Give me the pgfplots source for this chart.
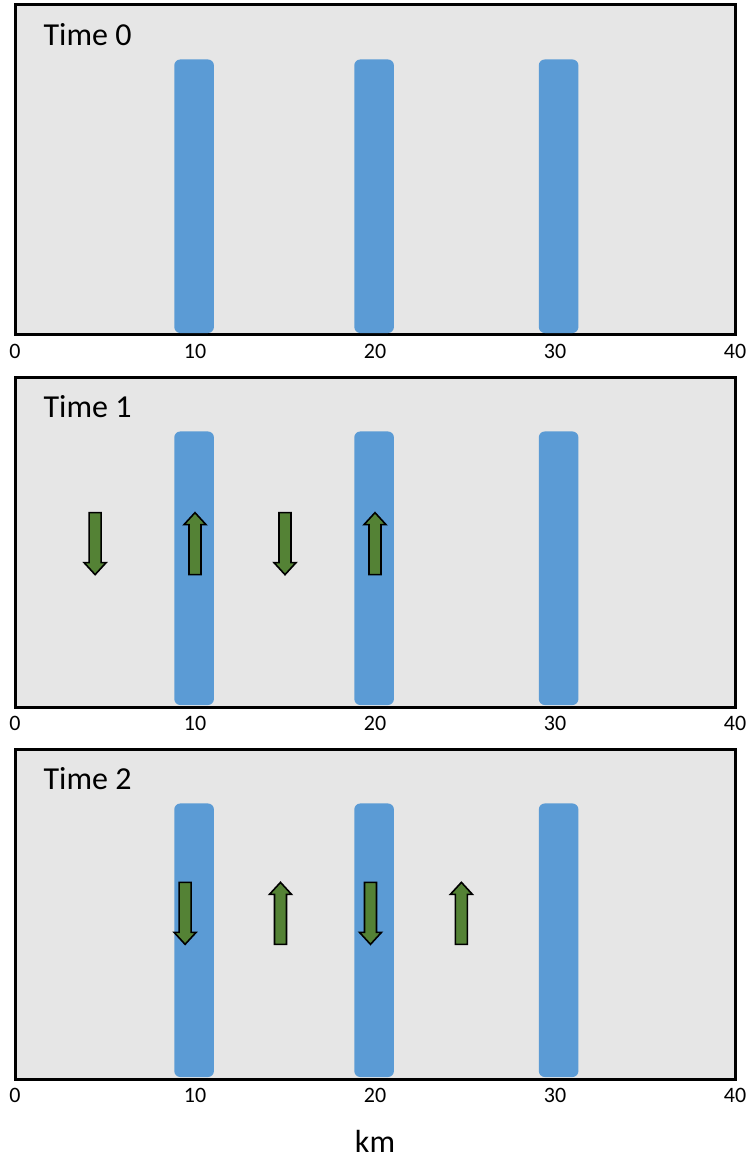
\documentclass[border=0pt]{standalone}
\usepackage{pgfplots}
\pgfplotsset{compat=1.18}
\usepackage{fontspec}
\setmainfont{Carlito}
\definecolor{bg}{HTML}{E6E6E6}
\definecolor{barb}{HTML}{5B9BD5}
\definecolor{arr}{HTML}{548235}
\pgfdeclareplotmark{dnarrow}{%
\pgfpathmoveto{\pgfpoint{-3pt}{15.5pt}}\pgfpathlineto{\pgfpoint{3pt}{15.5pt}}%
\pgfpathlineto{\pgfpoint{3pt}{-9.5pt}}\pgfpathlineto{\pgfpoint{5.5pt}{-9.5pt}}%
\pgfpathlineto{\pgfpoint{0pt}{-15.5pt}}\pgfpathlineto{\pgfpoint{-5.5pt}{-9.5pt}}%
\pgfpathlineto{\pgfpoint{-3pt}{-9.5pt}}\pgfpathclose\pgfusepathqfillstroke}
\pgfdeclareplotmark{uparrow}{%
\pgfpathmoveto{\pgfpoint{-3pt}{-15.5pt}}\pgfpathlineto{\pgfpoint{3pt}{-15.5pt}}%
\pgfpathlineto{\pgfpoint{3pt}{9.5pt}}\pgfpathlineto{\pgfpoint{5.5pt}{9.5pt}}%
\pgfpathlineto{\pgfpoint{0pt}{15.5pt}}\pgfpathlineto{\pgfpoint{-5.5pt}{9.5pt}}%
\pgfpathlineto{\pgfpoint{-3pt}{9.5pt}}\pgfpathclose\pgfusepathqfillstroke}
\pgfplotsset{panel/.style={width=360pt,height=165pt,scale only axis,
 xmin=0,xmax=40,ymin=0,ymax=1,xtick={0,10,20,30,40},ytick=\empty,
 major tick length=0pt,axis line style={line width=1.5pt},
 axis background/.style={fill=bg},
 /pgf/number format/assume math mode=true,
 tick label style={font=\fontsize{11}{13}\selectfont},
 xticklabel style={yshift=-1pt},
 clip=false}}
\newcommand{\bars}{%
\addplot[fill=barb,draw=none,rounded corners=3pt] coordinates {(8.85,0.006)(11.05,0.006)(11.05,0.835)(8.85,0.835)} --cycle;
\addplot[fill=barb,draw=none,rounded corners=3pt] coordinates {(18.85,0.006)(21.05,0.006)(21.05,0.835)(18.85,0.835)} --cycle;
\addplot[fill=barb,draw=none,rounded corners=3pt] coordinates {(29.1,0.006)(31.3,0.006)(31.3,0.835)(29.1,0.835)} --cycle;}
\begin{document}
\begin{tikzpicture}
\useasboundingbox (-7.5pt,2.5pt) rectangle (365pt,-577.5pt);
\begin{axis}[panel,at={(0,0)},anchor=north west]
\bars
\node[anchor=west,font=\fontsize{16}{19}\selectfont] at (rel axis cs:0.03,0.91) {Time 0};
\end{axis}
\begin{axis}[panel,at={(0,-186pt)},anchor=north west]
\bars
\addplot[only marks,mark=dnarrow,mark options={fill=arr,draw=black,line width=0.8pt}] coordinates {(4.45,0.495)(15.0,0.495)};
\addplot[only marks,mark=uparrow,mark options={fill=arr,draw=black,line width=0.8pt}] coordinates {(10.0,0.495)(20.0,0.495)};
\node[anchor=west,font=\fontsize{16}{19}\selectfont] at (rel axis cs:0.03,0.91) {Time 1};
\end{axis}
\begin{axis}[panel,at={(0,-372pt)},anchor=north west,xlabel={km},xlabel style={font=\fontsize{16}{19}\selectfont,yshift=-7pt}]
\bars
\addplot[only marks,mark=dnarrow,mark options={fill=arr,draw=black,line width=0.8pt}] coordinates {(9.45,0.502)(19.75,0.502)};
\addplot[only marks,mark=uparrow,mark options={fill=arr,draw=black,line width=0.8pt}] coordinates {(14.75,0.502)(24.8,0.502)};
\node[anchor=west,font=\fontsize{16}{19}\selectfont] at (rel axis cs:0.03,0.91) {Time 2};
\end{axis}
\end{tikzpicture}
\end{document}
